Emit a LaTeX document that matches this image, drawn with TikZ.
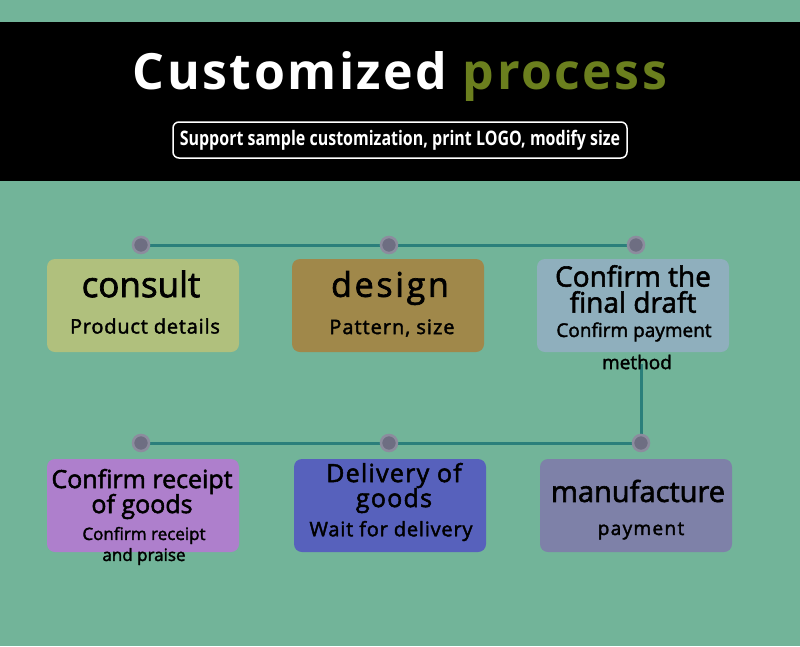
\documentclass[tikz,border=0pt]{standalone}
\usepackage{fontspec}
\setmainfont{Open Sans}
\newfontfamily\narrowfont[FakeStretch=0.80]{Open Sans}
\newfontfamily\boxfont[FakeBold=2]{Open Sans}
\usepackage{xcolor}
\usetikzlibrary{positioning}
\pgfdeclarelayer{back}
\pgfsetlayers{back,main}

\definecolor{pagegreen}{HTML}{72B499}
\definecolor{olive}{HTML}{6B7F1E}
\definecolor{linkteal}{HTML}{2B7F7B}
\definecolor{dotfill}{HTML}{6E6E82}
\definecolor{dotring}{HTML}{8C8C9E}
\definecolor{consultcol}{HTML}{B0C07D}
\definecolor{designcol}{HTML}{A0884A}
\definecolor{draftcol}{HTML}{8FAFBD}
\definecolor{receiptcol}{HTML}{AE7FCC}
\definecolor{deliverycol}{HTML}{5761BC}
\definecolor{makecol}{HTML}{7E81A8}

\begin{document}
\begin{tikzpicture}[x=1pt,y=-1pt,
  step box/.style={rounded corners=8pt,minimum width=192pt,
  minimum height=93pt,inner sep=0pt},
  dot/.style={circle,fill=dotfill,draw=dotring,line width=2.5pt,
  minimum size=16pt,inner sep=0pt},
  head/.style={font=\boxfont\fontsize{28}{30}\selectfont,align=center,inner sep=0pt},
  sub/.style={font=\boxfont\fontsize{19}{21}\selectfont,align=center,inner sep=0pt},
  link/.style={draw=linkteal,line width=3pt}]

  \useasboundingbox (0,0) rectangle (800,646);
  \begin{pgfonlayer}{back}
    \fill[pagegreen] (0,0) rectangle (800,646);
  \end{pgfonlayer}
  \fill[black] (0,22) rectangle (800,181);

  % title
  \node[font=\fontsize{50}{54}\bfseries\selectfont,inner sep=0pt]
    (title) at (400,77)
    {\addfontfeature{LetterSpace=5}\textcolor{white}{Customized}
     \textcolor{olive}{process}};
  \node[draw=white,line width=1.5pt,rounded corners=6pt,text=white,
    minimum width=454pt,minimum height=36pt,inner sep=0pt,
    font=\narrowfont\fontsize{20}{22}\bfseries\selectfont]
    (motto) at (400,140) {Support sample customization, print LOGO, modify size};

  % dots
  \node[dot] (d1) at (141,245) {};
  \node[dot] (d2) at (389,245) {};
  \node[dot] (d3) at (636,245) {};
  \node[dot] (d4) at (141,443) {};
  \node[dot] (d5) at (389,443) {};
  \node[dot] (d6) at (641,443) {};

  % boxes
  \node[step box,fill=consultcol] (consult) at (143,305.5) {};
  \node[step box,fill=designcol] (design) at (388,305.5) {};
  \node[step box,fill=draftcol] (draft) at (633,305.5) {};
  \node[step box,fill=receiptcol] (receipt) at (143,505.5) {};
  \node[step box,fill=deliverycol] (delivery) at (390,505.5) {};
  \node[step box,fill=makecol] (make) at (636,505.5) {};

  \begin{pgfonlayer}{back}
    \path[link] (d1) -- (d2) -- (d3);
    \path[link] (d4) -- (d5) -- (d6);
    \path[link] (d6) -- ([yshift=-12pt]d6 |- draft.south);
  \end{pgfonlayer}

  % texts
  \node[head,font=\boxfont\fontsize{35}{38}\selectfont] (consultT) at (141,284) {consult};
  \node[sub,font=\boxfont\fontsize{20}{22}\selectfont] (consultS) at (145,326)
    {\addfontfeature{LetterSpace=4}Product details};
  \node[head,font=\boxfont\fontsize{34}{36}\selectfont] (designT) at (390,288)
    {\addfontfeature{LetterSpace=8}design};
  \node[sub,font=\boxfont\fontsize{20}{22}\selectfont] (designS) at (392,328)
    {\addfontfeature{LetterSpace=5}Pattern, size};
  \node[head] (draftT) at (633,289) {Confirm the\\[-4pt]final draft};
  \node[sub] (draftS) at (634,332) {Confirm payment};
  \node[sub] (draftM) at (637,362) {method};
  \node[head,font=\boxfont\fontsize{25}{27}\selectfont] (receiptT) at (142,494)
    {Confirm receipt\\[-2pt]of goods};
  \node[sub,font=\boxfont\fontsize{17}{19}\selectfont] (receiptS) at (144,546)
    {Confirm receipt\\[2pt]and praise};
  \node[head,font=\boxfont\fontsize{25}{27}\selectfont] (deliveryT) at (394,488)
    {\addfontfeature{LetterSpace=5}Delivery of\\[-2pt]
     \addfontfeature{LetterSpace=5}goods};
  \node[sub,font=\boxfont\fontsize{20}{22}\selectfont] (deliveryS) at (391,531)
    {\addfontfeature{LetterSpace=4}Wait for delivery};
  \node[head,font=\boxfont\fontsize{29}{31}\selectfont] (makeT) at (638,491) {manufacture};
  \node[sub] (makeS) at (641,531) {\addfontfeature{LetterSpace=7}payment};
\end{tikzpicture}
\end{document}
